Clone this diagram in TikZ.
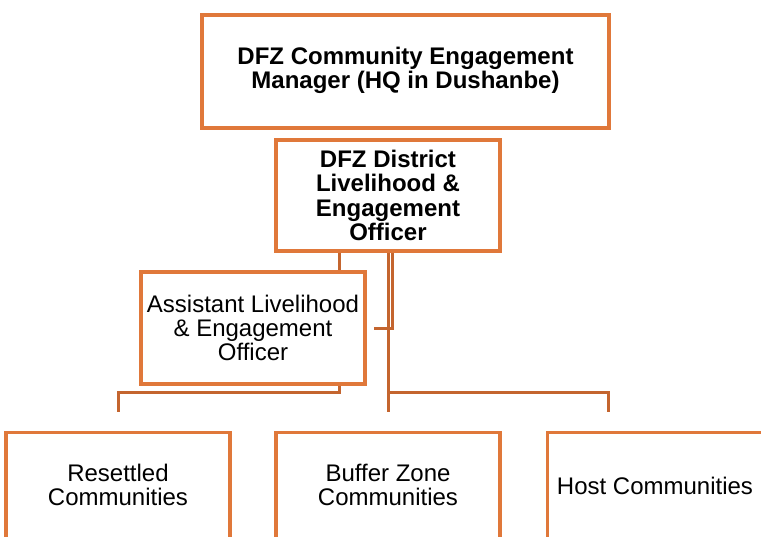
\documentclass[tikz,border=0pt]{standalone}
\usepackage{fontspec}
\setmainfont{Liberation Sans}
\definecolor{boxor}{HTML}{E0783A}
\definecolor{lineor}{HTML}{C4652F}
\begin{document}
\begin{tikzpicture}[x=1pt,y=-1pt,
  box/.style={draw=boxor,line width=3.2pt,fill=white,rectangle,inner sep=0pt,align=center},
  conn/.style={draw=lineor,line width=3pt},
  txt/.style={align=center,inner sep=0pt,font=\fontsize{24}{24.4}\selectfont},
  btxt/.style={align=center,inner sep=0pt,font=\fontsize{24}{24.4}\selectfont\bfseries}]
\useasboundingbox[fill=white] (0,0) rectangle (761,536);
% boxes
\node[box,minimum width=407pt,minimum height=113pt] (mgr) at (405.5,71.5) {};
\node[btxt] (mgrt) at ([yshift=1pt]mgr.center) {DFZ Community Engagement\\Manager (HQ in Dushanbe)};
\node[box,minimum width=224pt,minimum height=111pt] (dist) at (388,195.5) {};
\node[btxt] (distt) at (dist.center) {DFZ District\\Livelihood \&\\Engagement\\Officer};
\node[box,minimum width=224pt,minimum height=112pt] (asst) at (253,328) {};
\node[txt] (asstt) at (asst.center) {Assistant Livelihood\\\& Engagement\\Officer};
\node[box,minimum width=224pt,minimum height=200pt,anchor=north] (res) at (118,431) {};
\node[txt] (rest) at (118,485) {Resettled\\Communities};
\node[box,minimum width=224pt,minimum height=200pt,anchor=north] (buf) at (388,431) {};
\node[txt] (buft) at (388,485) {Buffer Zone\\Communities};
\node[box,minimum width=224pt,minimum height=200pt,anchor=north west] (host) at (546,431) {};
\node[txt] (hostt) at (655,486) {Host Communities};
% helper coordinates
\coordinate (xa) at (339,0);
\coordinate (xb) at (392,0);
\coordinate (xc) at (388,0);
\coordinate (asstend) at (374,328);
\coordinate (bufend) at (388,412);
\coordinate (resend) at (118,412);
\coordinate (hostend) at (608,412);
\coordinate (hbar) at (0,392);
% connectors
\draw[conn] (dist.south -| xa) -- (asst.north -| xa);
\draw[conn] (dist.south -| xb) |- (asstend);
\draw[conn] (dist.south -| xc) -- (bufend);
\draw[conn] (hbar -| xc) -| (hostend);
\draw[conn] (asst.south -| xa) |- (hbar -| resend) -- (resend);
\end{tikzpicture}
\end{document}
